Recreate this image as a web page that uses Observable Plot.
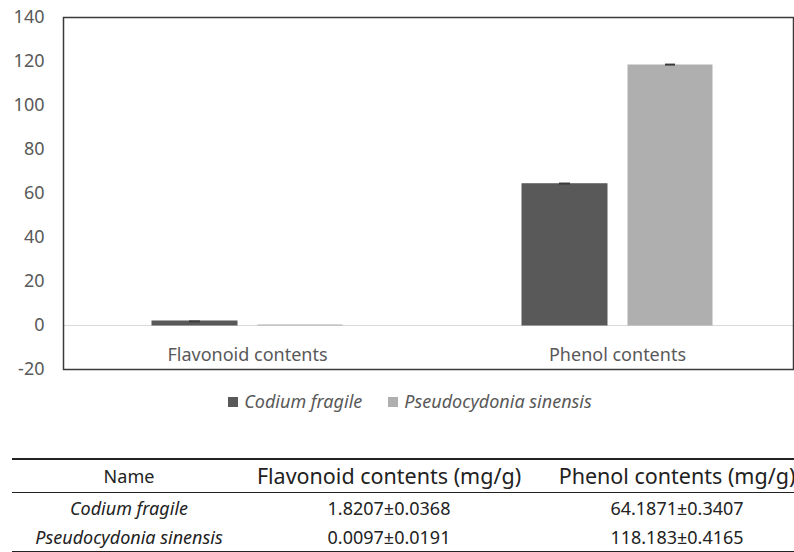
<!DOCTYPE html>
<html>
<head>
<meta charset="utf-8">
<script src="https://cdn.jsdelivr.net/npm/d3@7"></script>
<script src="https://cdn.jsdelivr.net/npm/@observablehq/plot@0.6"></script>
<style>
  html, body { margin: 0; padding: 0; background: #fff; overflow: hidden; }
  body { width: 794px; height: 552px; position: relative; font-family: "Noto Sans", sans-serif; }
  #chart { position: absolute; left: 0; top: 0; }
  #legend { position: absolute; left: 0; top: 389px; width: 820px; text-align: center; font-size: 18px; color: #595959; font-style: italic; white-space: nowrap; }
  #legend .item { display: inline-block; margin: 0 13px; }
  #legend .sw { display: inline-block; width: 10px; height: 10px; margin-right: 6px; vertical-align: 1px; }
  #tbl { position: absolute; left: 12px; top: 458px; width: 810px; table-layout: fixed; border-collapse: collapse; color: #222; white-space: nowrap; }
  #tbl th { font-weight: normal; font-size: 21.5px; height: 32px; padding: 0; border-top: 2.5px solid #222; border-bottom: 1.5px solid #222; line-height: 1; }
  #tbl th.nm { font-size: 18px; }
  #tbl td { font-size: 18px; height: 29px; padding: 0; text-align: center; line-height: 1; }
  #tbl tr:last-child td { border-bottom: 1.5px solid #222; }
  #tbl td.sp { font-style: italic; }
</style>
</head>
<body>
<div id="chart"></div>
<div id="legend"></div>
<table id="tbl"></table>
<script>
const groups = ["Flavonoid contents", "Phenol contents"];
const species = ["Codium fragile", "Pseudocydonia sinensis"];
const codiumMeans = [1.8207, 64.1871];
const codiumErrors = [0.0368, 0.3407];
const pseudoMeans = [0.0097, 118.183];
const pseudoErrors = [0.0191, 0.4165];
const yTicks = [-20, 0, 20, 40, 60, 80, 100, 120, 140];
const colors = ["#595959", "#afafaf"];
const tableHeaders = ["Name", "Flavonoid contents (mg/g)", "Phenol contents (mg/g)"];

const codiumRows = groups.map((g, i) => ({group: g, value: codiumMeans[i], err: codiumErrors[i]}));
const pseudoRows = groups.map((g, i) => ({group: g, value: pseudoMeans[i], err: pseudoErrors[i]}));

function seriesMarks(rows, color, inL, inR) {
  const capL = inL + 37, capR = inR + 37;
  const barCenterShift = (inL - inR) / 2;
  const shown = rows.filter(d => d.value > d.err);
  return [
    Plot.barY(rows, {x: "group", y: "value", fill: color, stroke: color, strokeWidth: 1, insetLeft: inL, insetRight: inR}),
    Plot.ruleX(shown, {x: "group", y1: "value", y2: d => d.value + d.err, dx: barCenterShift, stroke: "#3a3a3a", strokeWidth: 1.5}),
    Plot.tickY(shown, {x: "group", y: d => d.value + d.err, insetLeft: capL, insetRight: capR, stroke: "#3a3a3a", strokeWidth: 2})
  ];
}

const chart = Plot.plot({
  width: 794,
  height: 380,
  marginTop: 17,
  marginBottom: 11,
  marginLeft: 63,
  marginRight: 1,
  style: {fontFamily: "Noto Sans, sans-serif", color: "#595959", background: "#fff"},
  x: {type: "band", domain: groups, range: [62, 802], padding: 0, label: null},
  y: {domain: [-20, 140], ticks: yTicks, label: null},
  marks: [
    Plot.ruleY([0], {stroke: "#d9d9d9", strokeWidth: 1.2}),
    ...seriesMarks(codiumRows, colors[0], 90, 195),
    ...seriesMarks(pseudoRows, colors[1], 196, 90),
    Plot.axisY({ticks: yTicks, tickSize: 0, tickPadding: 19, fontSize: 18, fill: "#595959", label: null, tickFormat: d => String(d)}),
    Plot.axisX({tickSize: 0, dy: -30, fontSize: 18, fill: "#595959", label: null}),
    Plot.frame({stroke: "#3a3a3a", strokeWidth: 1.5})
  ]
});
document.getElementById("chart").appendChild(chart);

const legend = document.getElementById("legend");
species.forEach((s, i) => {
  const item = document.createElement("span");
  item.className = "item";
  const sw = document.createElement("span");
  sw.className = "sw";
  sw.style.background = colors[i];
  item.appendChild(sw);
  item.appendChild(document.createTextNode(s));
  legend.appendChild(item);
});

const tbl = document.getElementById("tbl");
const colWidths = [234, 286, 290];
const hr = document.createElement("tr");
tableHeaders.forEach((h, i) => {
  const th = document.createElement("th");
  th.textContent = h;
  th.style.width = colWidths[i] + "px";
  if (i === 0) th.className = "nm";
  hr.appendChild(th);
});
tbl.appendChild(hr);
const allMeans = [codiumMeans, pseudoMeans];
const allErrs = [codiumErrors, pseudoErrors];
species.forEach((s, i) => {
  const tr = document.createElement("tr");
  const td0 = document.createElement("td");
  td0.className = "sp";
  td0.textContent = s;
  tr.appendChild(td0);
  groups.forEach((g, j) => {
    const td = document.createElement("td");
    td.textContent = String(allMeans[i][j]) + "±" + String(allErrs[i][j]);
    tr.appendChild(td);
  });
  tbl.appendChild(tr);
});
</script>
</body>
</html>
